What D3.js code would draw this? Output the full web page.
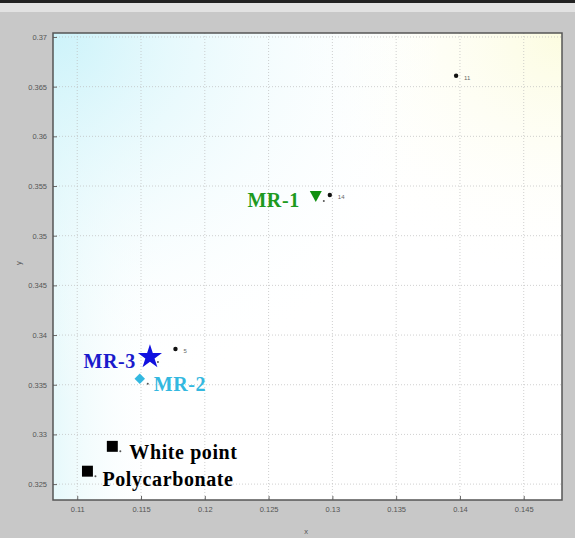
<!DOCTYPE html>
<html>
<head>
<meta charset="utf-8">
<script src="https://cdnjs.cloudflare.com/ajax/libs/d3/7.8.5/d3.min.js"></script>
<style>
  body { margin: 0; background: #c8c8c8; }
  svg { display: block; }
</style>
</head>
<body>
<div id="chart-area"></div>
<script>
// samples (chromaticity x, y)
var sampleNames = ["MR-1", "MR-2", "MR-3", "White point", "Polycarbonate"];
var sampleX = [0.1287, 0.1149, 0.1157, 0.11275, 0.1108];
var sampleY = [0.3540, 0.3356, 0.3378, 0.3288, 0.3263];
var sampleShape = ["triangle", "diamond", "star", "square", "square"];
var sampleColor = ["#109010", "#33b8e0", "#1010e0", "#000000", "#000000"];

// small reference dots with their tiny tags
var refX = [0.1397, 0.1298, 0.1177];
var refY = [0.3661, 0.3541, 0.3386];
var refTags = ["11", "14", "5"];

var xTicks = [0.11, 0.115, 0.12, 0.125, 0.13, 0.135, 0.14, 0.145];
var yTicks = [0.325, 0.33, 0.335, 0.34, 0.345, 0.35, 0.355, 0.36, 0.365, 0.37];

var W = 575, H = 538;
var margin = { left: 53, right: 13, top: 33, bottom: 38 },
    width = W - margin.left - margin.right,
    height = H - margin.top - margin.bottom;

var svg = d3.select("#chart-area").append("svg")
    .attr("width", W)
    .attr("height", H);

// window chrome at the top
svg.append("rect").attr("x", 0).attr("y", 0).attr("width", W).attr("height", H).attr("fill", "#c8c8c8");
svg.append("rect").attr("x", 0).attr("y", 0).attr("width", W).attr("height", 3).attr("fill", "#222");
svg.append("rect").attr("x", 0).attr("y", 3).attr("width", W).attr("height", 9).attr("fill", "#e2e2e2");

var defs = svg.append("defs");
var gc = defs.append("radialGradient").attr("id", "cyanGlow")
    .attr("cx", 0).attr("cy", 0).attr("r", 0.8);
gc.append("stop").attr("offset", "0%").attr("stop-color", "#cdf3fa").attr("stop-opacity", 1);
gc.append("stop").attr("offset", "100%").attr("stop-color", "#ffffff").attr("stop-opacity", 0);
var gl = defs.append("linearGradient").attr("id", "cyanEdge")
    .attr("x1", 0).attr("x2", 1).attr("y1", 0).attr("y2", 0);
gl.append("stop").attr("offset", "0%").attr("stop-color", "#e6f9fb").attr("stop-opacity", 1);
gl.append("stop").attr("offset", "22%").attr("stop-color", "#ffffff").attr("stop-opacity", 0);
var gy = defs.append("radialGradient").attr("id", "yellowGlow")
    .attr("cx", 1).attr("cy", 0).attr("r", 0.55);
gy.append("stop").attr("offset", "0%").attr("stop-color", "#fcfce0").attr("stop-opacity", 1);
gy.append("stop").attr("offset", "100%").attr("stop-color", "#ffffff").attr("stop-opacity", 0);

var g = svg.append("g")
    .attr("transform", "translate(" + margin.left + "," + margin.top + ")");

// plot background
g.append("rect").attr("width", width).attr("height", height).attr("fill", "#fff");
g.append("rect").attr("width", width).attr("height", height).attr("fill", "url(#yellowGlow)");
g.append("rect").attr("width", width).attr("height", height).attr("fill", "url(#cyanEdge)");
g.append("rect").attr("width", width).attr("height", height).attr("fill", "url(#cyanGlow)");

// Scales
var x = d3.scaleLinear().domain([0.1081, 0.1480]).range([0, width]);
var y = d3.scaleLinear().domain([0.3234, 0.3704]).range([height, 0]);

// grid
g.selectAll(".vgrid").data(xTicks).enter().append("line")
    .attr("class", "vgrid")
    .attr("x1", d => x(d)).attr("x2", d => x(d))
    .attr("y1", 0).attr("y2", height)
    .attr("stroke", "#bbb").attr("stroke-width", 0.7).attr("stroke-dasharray", "1,2");
g.selectAll(".hgrid").data(yTicks).enter().append("line")
    .attr("class", "hgrid")
    .attr("y1", d => y(d)).attr("y2", d => y(d))
    .attr("x1", 0).attr("x2", width)
    .attr("stroke", "#bbb").attr("stroke-width", 0.7).attr("stroke-dasharray", "1,2");

// axes
var xAxis = g.append("g")
    .attr("transform", "translate(0," + height + ")")
    .call(d3.axisBottom(x).tickValues(xTicks).tickSize(-4).tickPadding(7).tickFormat(d3.format("")));
var yAxis = g.append("g")
    .call(d3.axisLeft(y).tickValues(yTicks).tickSize(-4).tickPadding(6).tickFormat(d3.format("")));
[xAxis, yAxis].forEach(a => {
    a.select(".domain").remove();
    a.selectAll("line").attr("stroke", "#666");
    a.selectAll("text").attr("fill", "#555").attr("font-size", "7.5px").attr("font-family", "Liberation Sans");
});

// frame
g.append("rect").attr("width", width).attr("height", height)
    .attr("fill", "none").attr("stroke", "#555").attr("stroke-width", 1.5);

// axis labels
svg.append("text").attr("x", 306).attr("y", 534).attr("text-anchor", "middle")
    .attr("font-size", "7.5px").attr("fill", "#555").attr("font-family", "Liberation Sans").text("x");
svg.append("text").attr("transform", "translate(21,263) rotate(-90)").attr("text-anchor", "middle")
    .attr("font-size", "7.5px").attr("fill", "#555").attr("font-family", "Liberation Sans").text("y");

// reference dots
refX.forEach((v, i) => {
    g.append("circle").attr("cx", x(v)).attr("cy", y(refY[i])).attr("r", 2.2).attr("fill", "#111");
    g.append("text").attr("x", x(v) + 8).attr("y", y(refY[i]) + 4)
        .attr("font-size", "6px").attr("fill", "#666").attr("font-family", "Liberation Sans")
        .text(refTags[i]);
});

// sample markers
var symbolFor = {
    diamond: d3.symbol().type(d3.symbolSquare).size(55),
    star: d3.symbol().type(d3.symbolStar).size(180),
    square: d3.symbol().type(d3.symbolSquare).size(120)
};
sampleNames.forEach((name, i) => {
    var px = x(sampleX[i]), py = y(sampleY[i]);
    if (sampleShape[i] == "triangle") {
        g.append("path")
            .attr("d", "M" + (px - 6) + "," + (py - 5) + "L" + (px + 6) + "," + (py - 5) + "L" + px + "," + (py + 6) + "Z")
            .attr("fill", sampleColor[i]);
    } else {
        g.append("path")
            .attr("d", symbolFor[sampleShape[i]]())
            .attr("transform", "translate(" + px + "," + py + ")" + (sampleShape[i] == "diamond" ? " rotate(45)" : ""))
            .attr("fill", sampleColor[i]);
    }
    // tiny tick dot beside each marker
    g.append("circle").attr("cx", px + 8).attr("cy", py + 5).attr("r", 1).attr("fill", "#555");
});

// sample labels
var labelColor = ["#1e9a1e", "#33b8e0", "#1a1acc", "#000", "#000"];
var labelAnchor = ["end", "start", "end", "start", "start"];
var labelDx = [-16, 14, -14, 17, 15];
var labelDy = [11, 12, 11, 13, 15];
sampleNames.forEach((name, i) => {
    g.append("text")
        .attr("x", x(sampleX[i]) + labelDx[i])
        .attr("y", y(sampleY[i]) + labelDy[i])
        .attr("text-anchor", labelAnchor[i])
        .attr("font-family", "Liberation Serif")
        .attr("font-weight", "bold")
        .attr("font-size", "20px")
        .attr("letter-spacing", "0.6px")
        .attr("fill", labelColor[i])
        .text(name);
});
</script>
</body>
</html>
